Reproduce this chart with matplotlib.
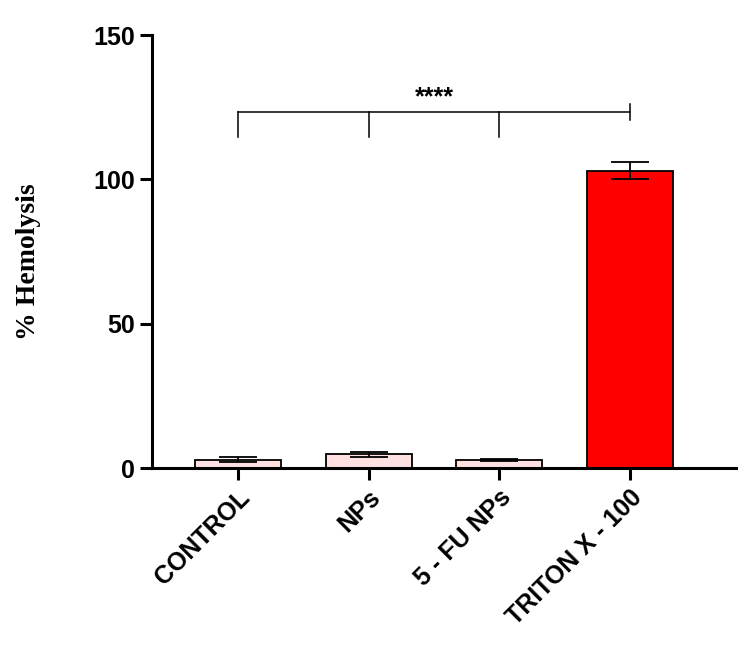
import matplotlib
matplotlib.use("Agg")
import matplotlib.pyplot as plt

# data
groups = ["CONTROL", "NPs", "5 - FU NPs", "TRITON X - 100"]
hemolysis = [2.9, 4.7, 2.8, 103.0]
errors = [0.9, 0.9, 0.4, 3.0]
colors = ["#FFE1E1", "#FFE1E1", "#FFE1E1", "#FF0000"]
y_ticks = [0, 50, 100, 150]

fig = plt.figure(figsize=(7.38, 6.56), dpi=100)
ax = fig.add_axes([152/738, 188/656, 586/738, 433/656])

x = list(range(len(groups)))
ax.bar(x, hemolysis, width=0.66, color=colors, edgecolor="black", linewidth=1.3, zorder=2)
ax.errorbar(x, hemolysis, yerr=errors, fmt="none", ecolor="black",
            elinewidth=1.3, capsize=14, capthick=1.3, zorder=3)

# significance bracket
bracket_y = 123.3
drop_y = 114.6
ax.plot([x[0], x[-1]], [bracket_y, bracket_y], color="black", lw=1.1, clip_on=False)
for xi in x[:-1]:
    ax.plot([xi, xi], [bracket_y, drop_y], color="black", lw=1.1)
ax.plot([x[-1], x[-1]], [bracket_y - 2.8, bracket_y + 2.8], color="black", lw=1.1)
ax.text((x[0] + x[-1]) / 2, bracket_y + 0.8, "****", ha="center", va="bottom",
        fontsize=18, fontweight="bold", family="Liberation Sans")

ax.set_xlim(-0.66, 3.83)
ax.set_ylim(0, 150)
ax.spines["top"].set_visible(False)
ax.spines["right"].set_visible(False)
ax.spines["left"].set_linewidth(2.2)
ax.spines["bottom"].set_linewidth(2.2)
ax.tick_params(axis="both", width=2.2, length=8.5, direction="out", pad=4)

ax.set_yticks(y_ticks)
ax.set_xticks(x)
ax.set_xticklabels(groups, rotation=45, ha="right", rotation_mode="anchor")

for lbl in ax.get_xticklabels() + ax.get_yticklabels():
    lbl.set_family("Liberation Sans")
    lbl.set_fontweight("bold")
    lbl.set_fontsize(18)

ax.set_ylabel("% Hemolysis", family="Liberation Serif", fontweight="bold", fontsize=20)
ax.yaxis.set_label_coords(-0.19, 0.476)

fig.savefig("out.png", dpi=100)
